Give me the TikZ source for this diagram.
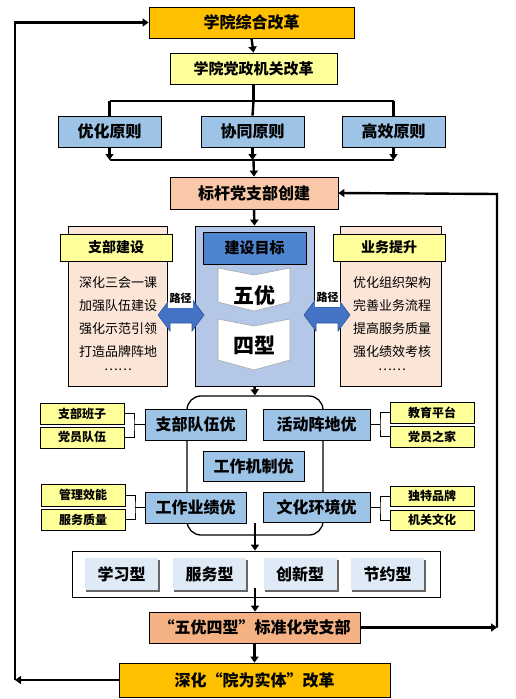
\documentclass[tikz,border=0pt]{standalone}
\usepackage{fontspec}
\setmainfont{Noto Sans CJK SC}
\usetikzlibrary{arrows.meta}
\definecolor{gold}{HTML}{FFC000}
\definecolor{lyel}{HTML}{FFFF99}
\definecolor{pblue}{HTML}{9DC3E6}
\definecolor{peach}{HTML}{F8C8A8}
\definecolor{lpeach}{HTML}{FBE5D6}
\definecolor{cblue}{HTML}{B4C7E7}
\definecolor{hblue}{HTML}{4F84CE}
\definecolor{ablue}{HTML}{4472C4}
\definecolor{dblue}{HTML}{2F5597}
\definecolor{tblue}{HTML}{DEEBF7}
\definecolor{opeach}{HTML}{F4B183}
\tikzset{
  box/.style={draw=black, line width=0.8pt, inner sep=0pt, align=center, font=\bfseries},
  conn/.style={line width=2.4pt},
  arr/.style={line width=2.4pt, -{Triangle[length=6pt,width=8pt]}},
  thin/.style={line width=0.8pt},
  item/.style={font=\fontsize{13}{13}\selectfont, inner sep=0pt},
  small/.style={box, fill=lyel, minimum width=84pt, minimum height=21pt, font=\bfseries\fontsize{12}{12}\selectfont},
  qbox/.style={box, fill=pblue, minimum height=31pt, font=\bfseries\fontsize{16}{16}\selectfont},
  tbox/.style={inner sep=0pt, fill=tblue, minimum width=73pt, minimum height=32pt, font=\bfseries\fontsize{16}{16}\selectfont},
}
\begin{document}
\begin{tikzpicture}[x=1pt,y=-1pt]
\useasboundingbox (0,0) rectangle (515,699);
\fill[white] (0,0) rectangle (515,699);

% top part
\node[box, fill=gold, minimum width=205pt, minimum height=31pt, font=\bfseries\fontsize{16}{16}\selectfont] (top) at (251.5,22.5) {学院综合改革};
\node[box, fill=lyel, minimum width=167pt, minimum height=31pt, font=\bfseries\fontsize{15}{15}\selectfont] (dz) at (253.5,68.5) {学院党政机关改革};
\node[qbox, minimum width=103pt] (p1) at (109.5,131.5) {优化原则};
\node[qbox, minimum width=103pt] (p2) at (252.5,131.5) {协同原则};
\node[qbox, minimum width=103pt] (p3) at (393.5,131.5) {高效原则};
\node[box, fill=peach, minimum width=168pt, minimum height=32pt, font=\bfseries\fontsize{16}{16}\selectfont] (bg) at (254,193) {标杆党支部创建};

\coordinate (b1) at (253.5,101);
\coordinate (b2) at (253.5,160);
\draw[arr] (top.south) -- (dz.north);
\draw[conn] (dz.south) -- (b1);
\draw[conn] (p1.north |- b1) -- (p3.north |- b1);
\draw[conn] (p1.north |- b1) -- (p1.north);
\draw[conn] (b1) -- (p2.north);
\draw[conn] (p3.north |- b1) -- (p3.north);
\draw[arr] (p1.south) -- (p1.south |- b2);
\draw[arr] (p2.south) -- (p2.south |- b2);
\draw[arr] (p3.south) -- (p3.south |- b2);
\draw[conn] (p1.south |- b2) -- (p3.south |- b2);
\draw[arr] (b2) -- (bg.north);

% middle three columns
\node[box, fill=lpeach, minimum width=99pt, minimum height=160pt] (lc) at (117.5,306) {};
\node[box, fill=lyel, minimum width=112pt, minimum height=27pt, font=\bfseries\fontsize{14}{14}\selectfont] (lh) at (116,247.5) {支部建设};
\node[item] (l1) at (118,283) {深化三会一课};
\node[item] (l2) at (118,306) {加强队伍建设};
\node[item] (l3) at (118,329) {强化示范引领};
\node[item] (l4) at (118,352) {打造品牌阵地};
\node[item] (l5) at (118,370) {……};

\node[box, fill=lpeach, minimum width=101pt, minimum height=160pt] (rc) at (390.5,306) {};
\node[box, fill=lyel, minimum width=112pt, minimum height=27pt, font=\bfseries\fontsize{14}{14}\selectfont] (rh) at (389,247.5) {业务提升};
\node[item] (r1) at (392,283) {优化组织架构};
\node[item] (r2) at (392,306) {完善业务流程};
\node[item] (r3) at (392,329) {提高服务质量};
\node[item] (r4) at (392,352) {强化绩效考核};
\node[item] (r5) at (392,370) {……};

\node[box, fill=cblue, minimum width=119pt, minimum height=160pt] (cc) at (254.5,306) {};
\node[box, fill=hblue, minimum width=103pt, minimum height=32pt, font=\bfseries\fontsize{15}{15}\selectfont] (goal) at (254.5,248) {建设目标};
\draw[fill=white, draw=gray!70, line width=0.6pt] (218,268) -- (254,275) -- (290,268) -- (290,302) -- (254,311) -- (218,302) -- cycle;
\draw[fill=white, draw=gray!70, line width=0.6pt] (218,319) -- (254,326) -- (290,319) -- (290,360) -- (254,370) -- (218,360) -- cycle;
\node[font=\bfseries\fontsize{21}{21}\selectfont, inner sep=0pt] (wy) at (254,296) {五优};
\node[font=\bfseries\fontsize{21}{21}\selectfont, inner sep=0pt] (sx) at (254,345) {四型};
\draw[arr] (bg.south) -- (cc.north);

% blue double arrows
\draw[fill=ablue, draw=dblue, line width=0.6pt] (158,315) -- (170,299) -- (170,307) -- (192,307) -- (192,299) -- (204,315) -- (192,331) -- (192,323) -- (170,323) -- (170,331) -- cycle;
\draw[fill=ablue, draw=dblue, line width=0.6pt] (304,315) -- (316,299) -- (316,307) -- (338,307) -- (338,299) -- (350,315) -- (338,331) -- (338,323) -- (316,323) -- (316,331) -- cycle;
\node[fill=white, inner sep=1pt, minimum width=25pt, minimum height=18pt, font=\bfseries\fontsize{11}{11}\selectfont] (lj1) at (180.5,298.5) {路径};
\node[fill=white, inner sep=1pt, minimum width=25pt, minimum height=18pt, font=\bfseries\fontsize{11}{11}\selectfont] (lj2) at (327.5,297.5) {路径};

% five excellences
\node[draw=black, line width=1.3pt, rounded corners=14pt, minimum width=136pt, minimum height=139pt, fill=white] (rd) at (255,465.5) {};
\draw[arr] (cc.south) -- (rd.north);
\node[qbox, minimum width=101pt] (q1) at (195.5,424.5) {支部队伍优};
\node[qbox, minimum width=107pt] (q2) at (316.5,424.5) {活动阵地优};
\node[qbox, minimum width=101pt, minimum height=30pt] (q3) at (253.5,466) {工作机制优};
\node[qbox, minimum width=101pt] (q4) at (195.5,507.5) {工作业绩优};
\node[qbox, minimum width=107pt, minimum height=30pt] (q5) at (316.5,507) {文化环境优};

\node[small] (s1) at (82,413.5) {支部班子};
\node[small] (s2) at (82,437.5) {党员队伍};
\node[small, minimum height=22pt] (s3) at (83,495) {管理效能};
\node[small] (s4) at (83,519.5) {服务质量};
\node[small] (s5) at (432,412.5) {教育平台};
\node[small] (s6) at (432,436.5) {党员之家};
\node[small, minimum height=20pt] (s7) at (432,496) {独特品牌};
\node[small, minimum height=20pt] (s8) at (432,520) {机关文化};

\coordinate (j1) at (134,424.5);
\coordinate (j2) at (380,424.5);
\coordinate (j3) at (135,507.5);
\coordinate (j4) at (380,507);
\draw[thin] (s1.east) -| (j1) |- (s2.east);
\draw[thin] (j1) -- (q1.west);
\draw[thin] (s5.west) -| (j2) |- (s6.west);
\draw[thin] (j2) -- (q2.east);
\draw[thin] (s3.east) -| (j3) |- (s4.east);
\draw[thin] (j3) -- (q4.west);
\draw[thin] (s7.west) -| (j4) |- (s8.west);
\draw[thin] (j4) -- (q5.east);

% four types
\node[draw=black, line width=0.8pt, fill=white, minimum width=368pt, minimum height=46pt, inner sep=0pt] (ty) at (256,574) {};
\coordinate (c1) at (255,523);
\draw[arr] (c1) -- (ty.north -| c1);
\foreach \n/\x/\t in {t1/121.5/学习型, t2/209.5/服务型, t3/300/创新型, t4/387.5/节约型}{
  \fill[black!60] (\x-35.5,560) rectangle (\x+38.5,592);
  \node[tbox] (\n) at (\x,574) {\t};
}
\node[box, fill=opeach, minimum width=211pt, minimum height=31pt, font=\bfseries\fontsize{16}{16}\selectfont] (std) at (254.5,627.5) {“五优四型”标准化党支部};
\coordinate (c2) at (255,588);
\draw[arr] (c2) -- (std.north -| c2);
\node[box, fill=gold, minimum width=271pt, minimum height=34pt, font=\bfseries\fontsize{16}{16}\selectfont] (shen) at (254.5,680) {深化“院为实体”改革};
\draw[arr] (std.south) -- (shen.north);

% loops
\coordinate (L1) at (15,680);
\coordinate (L2) at (15,22.5);
\coordinate (R1) at (497,627.5);
\coordinate (R2) at (497,194);
\draw[arr] (shen.west) -- (L1);
\draw[arr] (L1) -- (L2) -- (top.west);
\draw[arr] (std.east) -- (R1);
\draw[arr] (R1) -- (R2) -- (bg.east);
\end{tikzpicture}
\end{document}
